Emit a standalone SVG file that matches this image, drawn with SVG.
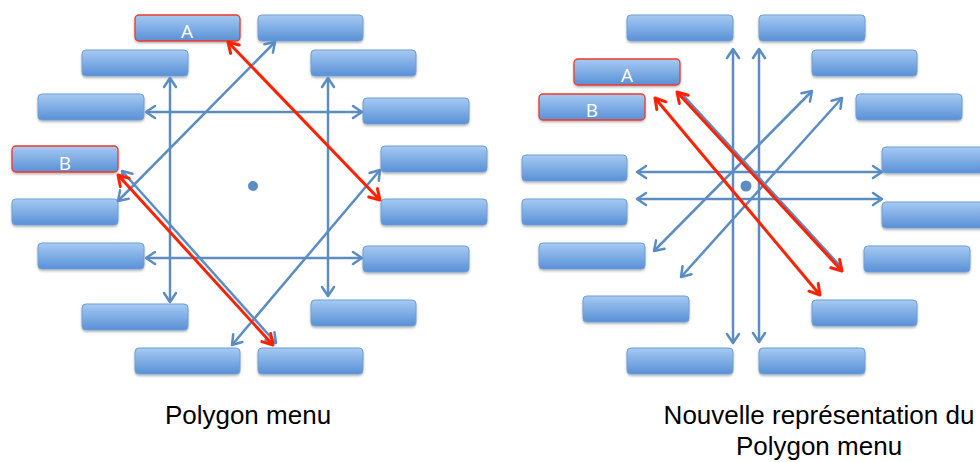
<svg xmlns="http://www.w3.org/2000/svg" width="980" height="462" viewBox="0 0 980 462">
<defs>
<linearGradient id="gb" x1="0" y1="0" x2="0" y2="1">
<stop offset="0" stop-color="#a6caf3"/>
<stop offset="1" stop-color="#5990d6"/>
</linearGradient>
<filter id="sh" x="-10%" y="-20%" width="120%" height="160%">
<feDropShadow dx="0" dy="1.5" stdDeviation="1" flood-color="#000" flood-opacity="0.3"/>
</filter>
<marker id="ab" viewBox="-12 -8 14 16" refX="0" refY="0" markerWidth="14" markerHeight="16" markerUnits="userSpaceOnUse" orient="auto-start-reverse">
<path d="M-9,-6 L0,0 L-9,6" fill="none" stroke="#5b8cc4" stroke-width="2.5" stroke-linecap="round" stroke-linejoin="round"/>
</marker>
<marker id="ar" viewBox="-13 -8 15 16" refX="0" refY="0" markerWidth="15" markerHeight="16" markerUnits="userSpaceOnUse" orient="auto-start-reverse">
<path d="M-10,-6 L0,0 L-10,6" fill="none" stroke="#ff2200" stroke-width="3" stroke-linecap="round" stroke-linejoin="round"/>
</marker>
</defs>
<style>
.box{fill:url(#gb);stroke:#6f9fd6;stroke-width:1;filter:url(#sh)}
.sel{fill:url(#gb);stroke:#f03a2a;stroke-width:1.3;filter:url(#sh)}
.lbl{font-family:"Open Sans","Liberation Sans",sans-serif;font-size:19px;fill:#ffffff;text-anchor:middle}
.cap{font-family:"Liberation Sans",Arial,sans-serif;font-size:26px;fill:#000;text-anchor:middle}
.bl{stroke:#5b8cc4;stroke-width:2.5;fill:none;marker-start:url(#ab);marker-end:url(#ab)}
.bln{stroke:#5b8cc4;stroke-width:2.5;fill:none}
.rd{stroke:#ff2200;stroke-width:3;fill:none;marker-start:url(#ar);marker-end:url(#ar)}
.dot{fill:#5b8cc4;stroke:#ffffff;stroke-width:2}
</style>

<!-- Left diagram nodes -->
<g id="L-A"><rect class="sel" x="135" y="15" width="105" height="26" rx="4"/><text class="lbl" x="187" y="38">A</text></g>
<g id="L-n2"><rect class="box" x="82" y="50" width="106" height="26" rx="4"/></g>
<g id="L-n3"><rect class="box" x="38" y="94" width="106" height="26" rx="4"/></g>
<g id="L-B"><rect class="sel" x="12" y="146" width="106" height="26" rx="4"/><text class="lbl" x="65" y="170">B</text></g>
<g id="L-n5"><rect class="box" x="12" y="199" width="106" height="26" rx="4"/></g>
<g id="L-n6"><rect class="box" x="38" y="243" width="106" height="26" rx="4"/></g>
<g id="L-n7"><rect class="box" x="82" y="304" width="106" height="26" rx="4"/></g>
<g id="L-n8"><rect class="box" x="135" y="348" width="105" height="26" rx="4"/></g>
<g id="L-n9"><rect class="box" x="258" y="15" width="105" height="26" rx="4"/></g>
<g id="L-n10"><rect class="box" x="311" y="50" width="105" height="26" rx="4"/></g>
<g id="L-n11"><rect class="box" x="363" y="98" width="106" height="26" rx="4"/></g>
<g id="L-n12"><rect class="box" x="381" y="146" width="106" height="26" rx="4"/></g>
<g id="L-n13"><rect class="box" x="381" y="199" width="106" height="26" rx="4"/></g>
<g id="L-n14"><rect class="box" x="363" y="246" width="106" height="26" rx="4"/></g>
<g id="L-n15"><rect class="box" x="311" y="300" width="105" height="26" rx="4"/></g>
<g id="L-n16"><rect class="box" x="258" y="348" width="105" height="26" rx="4"/></g>

<!-- Right diagram nodes -->
<g id="R-n1"><rect class="box" x="627" y="15" width="106" height="26" rx="4"/></g>
<g id="R-A"><rect class="sel" x="574" y="59" width="106" height="26" rx="4"/><text class="lbl" x="627" y="82">A</text></g>
<g id="R-B"><rect class="sel" x="539" y="94" width="106" height="26" rx="4"/><text class="lbl" x="592" y="117">B</text></g>
<g id="R-n4"><rect class="box" x="522" y="155" width="105" height="26" rx="4"/></g>
<g id="R-n5"><rect class="box" x="522" y="199" width="105" height="26" rx="4"/></g>
<g id="R-n6"><rect class="box" x="539" y="243" width="106" height="26" rx="4"/></g>
<g id="R-n7"><rect class="box" x="583" y="296" width="106" height="26" rx="4"/></g>
<g id="R-n8"><rect class="box" x="627" y="348" width="106" height="26" rx="4"/></g>
<g id="R-n9"><rect class="box" x="759" y="15" width="106" height="26" rx="4"/></g>
<g id="R-n10"><rect class="box" x="812" y="50" width="105" height="26" rx="4"/></g>
<g id="R-n11"><rect class="box" x="856" y="94" width="106" height="26" rx="4"/></g>
<g id="R-n12"><rect class="box" x="882" y="147" width="106" height="26" rx="4"/></g>
<g id="R-n13"><rect class="box" x="882" y="202" width="106" height="26" rx="4"/></g>
<g id="R-n14"><rect class="box" x="864" y="246" width="106" height="26" rx="4"/></g>
<g id="R-n15"><rect class="box" x="812" y="300" width="105" height="26" rx="4"/></g>
<g id="R-n16"><rect class="box" x="759" y="348" width="106" height="26" rx="4"/></g>

<!-- Connectors -->
<g id="connectors">
<line class="bl" x1="170" y1="78" x2="170" y2="302"/>
<line class="bl" x1="328" y1="78" x2="328" y2="296"/>
<line class="bl" x1="146" y1="112" x2="362" y2="112"/>
<line class="bl" x1="146" y1="258" x2="362" y2="258"/>
<line class="bl" x1="118" y1="201" x2="275" y2="42"/>
<line class="bl" x1="232" y1="345" x2="380" y2="170"/>
<line class="bl" x1="122" y1="171" x2="276" y2="343"/>
<line class="rd" x1="228" y1="42" x2="380" y2="200"/>
<line class="rd" x1="118" y1="175" x2="273" y2="345"/>

<line class="bl" x1="733" y1="49" x2="733" y2="343"/>
<line class="bl" x1="759" y1="49" x2="759" y2="342"/>
<line class="bl" x1="637" y1="172" x2="882" y2="172"/>
<line class="bl" x1="637" y1="199" x2="882" y2="199"/>
<line class="bl" x1="654" y1="251" x2="812" y2="91"/>
<line class="bl" x1="681" y1="277" x2="842" y2="98"/>
<line class="bln" x1="682" y1="94" x2="842" y2="268"/>
<line class="rd" x1="677" y1="92" x2="842" y2="271"/>
<line class="rd" x1="655" y1="98" x2="820" y2="295"/>
</g>

<g id="centers">
<circle class="dot" cx="253" cy="186" r="6"/>
<circle class="dot" cx="746" cy="186" r="6.5"/>
</g>

<g id="captions">
<text class="cap" x="248" y="424">Polygon menu</text>
<text class="cap" x="819" y="424">Nouvelle représentation du</text>
<text class="cap" x="819" y="455">Polygon menu</text>
</g>
</svg>
